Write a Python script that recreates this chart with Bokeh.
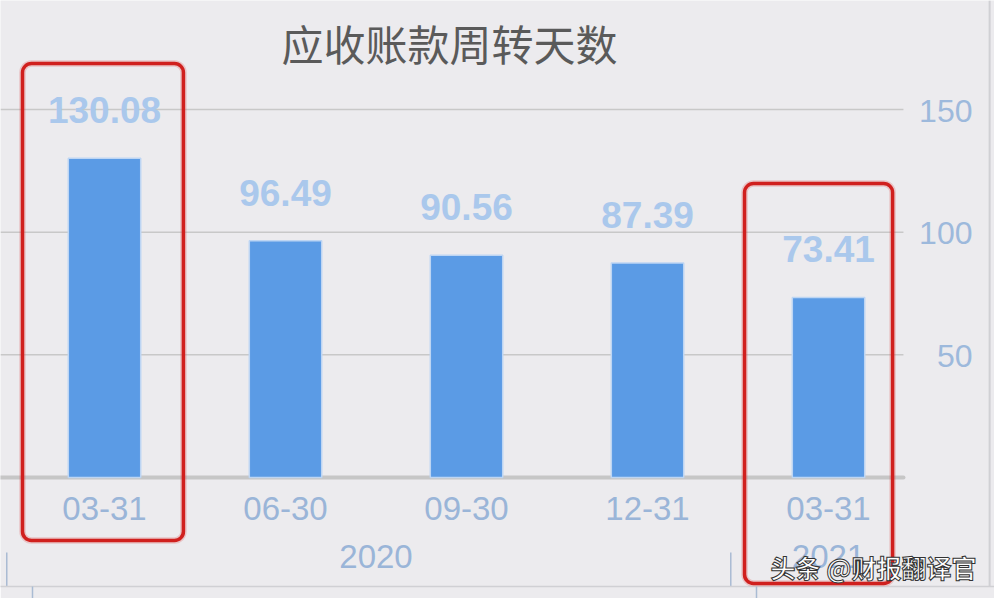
from bokeh.plotting import figure
from bokeh.models import Range1d, LinearAxis, FixedTicker, Grid, BoxAnnotation, Label, Span
from bokeh.core.properties import value
from bokeh.embed import file_html
from bokeh.resources import INLINE

# ---- data ----
categories = ["03-31", "06-30", "09-30", "12-31", "03-31"]
years = ["2020", "2020", "2020", "2020", "2021"]
days = [130.08, 96.49, 90.56, 87.39, 73.41]
y_ticks = [50, 100, 150]
title_text = "应收账款周转天数"
watermark = "头条 @财报翻译官"

idx = list(range(len(categories)))
value_labels = [f"{v:.2f}" for v in days]
y_tick_labels = [str(t) for t in y_ticks]

groups = []
for i, yr in enumerate(years):
    if not groups or groups[-1][0] != yr:
        groups.append([yr, [i]])
    else:
        groups[-1][1].append(i)
group_names = [g for g, _ in groups]
group_centers = [sum(ix) / len(ix) for _, ix in groups]
boundaries = [ix[0] - 0.5 for _, ix in groups]

# ---- style ----
BG = "#ECEBEE"
LABEL_BLUE = "#9AB5D8"
X0, X1 = -0.5746, 4.917
Y0, Y1 = -44.43, 194.43
PLOT_RIGHT = 4.414      # where grid lines stop (value axis labels sit beyond)

p = figure(width=994, height=598, output_backend="svg", toolbar_location=None,
           x_range=Range1d(X0, X1), y_range=Range1d(Y0, Y1),
           x_axis_location=None, y_axis_location=None,
           min_border=0, min_border_left=0, min_border_right=0,
           min_border_top=0, min_border_bottom=0,
           background_fill_color=BG, border_fill_color=BG, outline_line_color=None)
p.center = [r for r in p.center if not isinstance(r, Grid)]

# horizontal grid lines and baseline
p.segment(x0=[X0] * len(y_ticks), x1=[PLOT_RIGHT] * len(y_ticks), y0=y_ticks, y1=y_ticks,
          line_color="#C8C8C8", line_width=1.5)
p.segment(x0=[X0], x1=[PLOT_RIGHT], y0=[0], y1=[0], line_color="#C6C6C6", line_width=4,
          line_cap="round")

# value axis labels (right side)
p.text(x=[X1] * len(y_ticks), y=y_ticks, text=y_tick_labels, x_offset=-22, y_offset=1,
       text_align="right", text_baseline="middle", text_font=value("Liberation Sans"),
       text_font_size="32px", text_color="#9DB9DC")

# bars and value labels
p.vbar(x=idx, top=days, width=0.4, fill_color="#5B9BE5", line_color="#BDD5F3", line_width=1.5)
p.text(x=idx, y=days, text=value_labels, text_align="center", text_baseline="middle",
       y_offset=-48, text_font=value("Liberation Sans"), text_font_style="bold",
       text_font_size="37px", text_color="#AAC8EC")

# category labels and group labels
p.text(x=idx, y=[0] * len(idx), text=categories, text_align="center", text_baseline="middle",
       y_offset=31, text_font=value("Liberation Sans"), text_font_size="33px",
       text_color=LABEL_BLUE)
p.text(x=group_centers, y=[0] * len(group_centers), text=group_names, text_align="center",
       text_baseline="middle", y_offset=79, text_font=value("Liberation Sans"),
       text_font_size="33px", text_color=LABEL_BLUE)

# group separators
seps = [b - 0.04 for b in boundaries]
p.segment(x0=seps, x1=seps, y0=[-30.6] * len(seps), y1=[Y0] * len(seps),
          line_color="#A9BBD3", line_width=1.5)

# bottom rule with small ticks
ax3 = LinearAxis(ticker=FixedTicker(ticks=[], minor_ticks=[b + 0.1 for b in boundaries]),
                 axis_line_color="#D0D0D4", axis_line_width=1.5,
                 major_tick_line_color=None, major_tick_in=0, major_tick_out=12,
                 minor_tick_line_color="#A9BBD3", minor_tick_line_width=1.5,
                 minor_tick_in=0, minor_tick_out=12)
p.add_layout(ax3, "below")

# right border of chart area
p.add_layout(Span(location=4.890, dimension="height", line_color="#D0D0D4", line_width=2))

# title
p.add_layout(Label(x=1.906, y=177.3, text=title_text, text_font="Noto Sans CJK SC",
                   text_font_size="42px", text_color="#5A5A5A", text_align="center",
                   text_baseline="middle"))

# highlight boxes
for (l, r, t, b) in [(-0.453, 0.436, 168.75, -25.68), (3.536, 4.354, 119.84, -43.21)]:
    p.add_layout(BoxAnnotation(left=l, right=r, top=t, bottom=b, fill_color=None, fill_alpha=0,
                               line_color="#E05050", line_alpha=0.25, line_width=6.5,
                               border_radius=9))
    p.add_layout(BoxAnnotation(left=l, right=r, top=t, bottom=b, fill_color=None, fill_alpha=0,
                               line_color="#D0201E", line_alpha=1.0, line_width=3.5,
                               border_radius=9))

# watermark
p.add_layout(Label(x=3.68, y=-36.5, text=watermark, text_font="Noto Sans CJK SC",
                   text_font_size="25px", text_font_style="bold", text_color="white",
                   text_outline_color="#333333", text_align="left", text_baseline="middle"))

open("out.html", "w").write(file_html(p, INLINE))
